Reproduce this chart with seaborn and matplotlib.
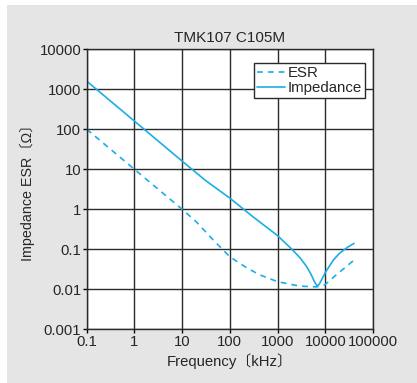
import numpy as np
import pandas as pd
import matplotlib
matplotlib.use("Agg")
import matplotlib.pyplot as plt
import seaborn as sns
from matplotlib.patches import Rectangle

sns.set_style("ticks")
plt.rcParams['font.family'] = ['Liberation Sans', 'Noto Sans CJK JP', 'DejaVu Sans']

# values (frequency in kHz, ohms)
imp_freq = [0.1, 1, 10, 30, 100, 300, 1000, 2000, 3000, 4000, 5000, 6000, 6800,
            7500, 8500, 10000, 12000, 15000, 20000, 30000, 40000]
imp_vals = [1600, 160, 16, 5.4, 1.9, 0.66, 0.22, 0.1, 0.06, 0.038, 0.024, 0.015, 0.012,
            0.0135, 0.018, 0.026, 0.037, 0.055, 0.08, 0.115, 0.14]

esr_freq = [0.1, 1, 10, 20, 45, 100, 220, 420, 1000, 2900, 6500, 9700, 17000, 38000]
esr_vals = [100, 10, 1, 0.48, 0.17, 0.065, 0.035, 0.023, 0.0155, 0.012, 0.0115,
            0.0128, 0.023, 0.051]

x_ticks = [0.1, 1, 10, 100, 1000, 10000, 100000]
x_labels = ['0.1', '1', '10', '100', '1000', '10000', '100000']
y_ticks = [0.001, 0.01, 0.1, 1, 10, 100, 1000, 10000]
y_labels = ['0.001', '0.01', '0.1', '1', '10', '100', '1000', '10000']

line_color = '#1aaee6'
bg = '#e5e5e5'

esr_df = pd.DataFrame({'freq': esr_freq, 'value': esr_vals})
imp_df = pd.DataFrame({'freq': imp_freq, 'value': imp_vals})

fig = plt.figure(figsize=(4.17, 3.83), dpi=100, facecolor='white')
fig.patches.append(Rectangle((7 / 417, 0), 1, 1 - 5 / 383, transform=fig.transFigure,
                             facecolor=bg, edgecolor='none', zorder=-10))
ax = fig.add_axes([0.208, 0.1402, 0.6865, 0.7311])

sns.lineplot(data=esr_df, x='freq', y='value', ax=ax, color=line_color, lw=1.2,
             linestyle=(0, (3.5, 3)), label='ESR', sort=False)
sns.lineplot(data=imp_df, x='freq', y='value', ax=ax, color=line_color, lw=1.2,
             label='Impedance', sort=False)

ax.set_xscale('log')
ax.set_yscale('log')
ax.set_xlim(0.1, 100000)
ax.set_ylim(0.001, 10000)
ax.set_xticks(x_ticks)
ax.set_xticklabels(x_labels)
ax.set_yticks(y_ticks)
ax.set_yticklabels(y_labels)
ax.minorticks_off()
ax.tick_params(axis='both', labelsize=10.7, length=3, width=1, pad=1, color='black')
ax.grid(True, color='#2a2a2a', lw=1)
for s in ax.spines.values():
    s.set_color('#2a2a2a')
    s.set_linewidth(1)

ax.set_title('TMK107 C105M', fontsize=11, pad=5)
ax.set_xlabel('Frequency〔kHz〕', fontsize=10.7, labelpad=3)
ax.set_ylabel('Impedance ESR〔Ω〕', fontsize=10.3, labelpad=3)

leg = ax.legend(loc='upper right', bbox_to_anchor=(0.972, 0.951), fontsize=10.8,
                frameon=True, fancybox=False, shadow=False, borderaxespad=0,
                handlelength=1.9, handletextpad=0.15, labelspacing=0.05,
                borderpad=0.2)
leg.get_frame().set_edgecolor('#2a2a2a')
leg.get_frame().set_linewidth(1)
leg.get_frame().set_alpha(1)

fig.savefig('out.png', dpi=100, facecolor=fig.get_facecolor())
